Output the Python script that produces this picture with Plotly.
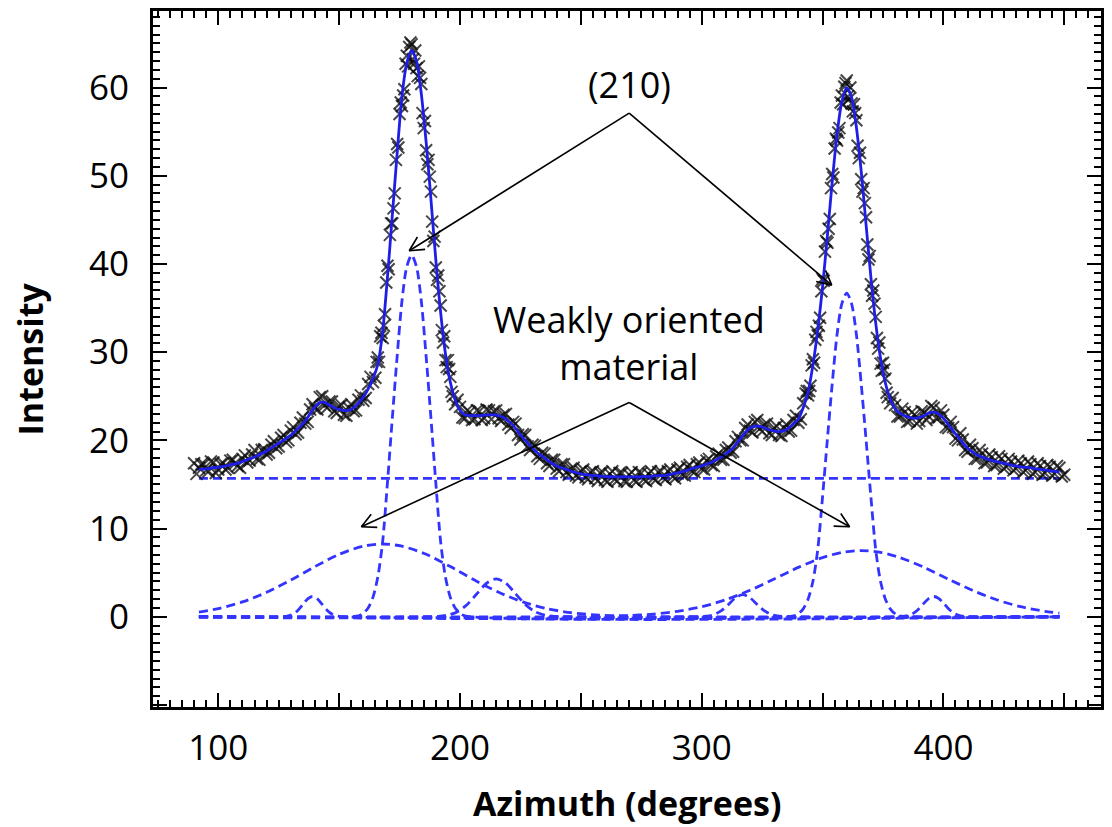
import math
import plotly.graph_objects as go

# ---- measured azimuthal scan of the (210) reflection ----
# even azimuths
azimuth_even = list(range(90, 451, 2))
intensity_even = [
    17.4, 16.9, 17.3, 16.5, 17.5, 16.7, 17.4, 16.9, 17.8, 17.1,
    17.9, 17.5, 18.4, 17.9, 18.9, 18.4, 19.5, 19.1, 20.3, 19.8,
    21.1, 20.7, 22.0, 21.9, 23.5, 23.6, 24.9, 24.0, 24.4, 23.3,
    23.9, 22.9, 23.7, 23.3, 24.6, 24.5, 26.4, 26.6, 29.4, 31.6,
    39.8, 44.6, 53.6, 57.9, 63.6, 64.9, 62.2, 60.4, 52.9, 48.2,
    39.6, 35.3, 29.1, 27.2, 24.1, 23.8, 22.5, 23.2, 22.4, 23.3,
    22.5, 23.4, 23.3, 22.5, 22.9, 21.8, 22.1, 20.6, 20.7, 19.3,
    19.5, 18.2, 18.6, 17.4, 17.8, 16.8, 17.3, 16.4, 16.8, 16.0,
    16.5, 15.8, 16.4, 15.7, 16.3, 15.5, 16.2, 15.6, 16.3, 15.4,
    16.1, 15.5, 16.4, 15.6, 16.2, 15.7, 16.4, 15.8, 16.5, 15.9,
    16.7, 16.1, 17.0, 16.5, 17.3, 16.8, 17.7, 17.2, 18.2, 17.8,
    18.9, 18.6, 19.9, 20.0, 21.4, 21.1, 22.1, 21.3, 21.8, 20.8,
    21.4, 20.6, 21.4, 21.0, 22.3, 22.0, 24.2, 25.1, 29.2, 31.9,
    38.3, 42.4, 50.2, 54.0, 59.1, 60.8, 58.2, 56.3, 49.6, 45.3,
    37.7, 34.0, 28.7, 27.0, 24.2, 24.0, 22.7, 23.2, 22.2, 22.9,
    22.2, 23.2, 22.7, 23.7, 22.6, 22.9, 21.4, 21.5, 20.0, 20.1,
    18.7, 19.1, 17.9, 18.5, 17.5, 18.1, 17.2, 17.9, 17.0, 17.6,
    16.8, 17.4, 16.6, 17.3, 16.4, 17.1, 16.3, 17.0, 16.2, 16.9,
    16.1,
]
# odd azimuths
azimuth_odd = list(range(91, 450, 2))
intensity_odd = [
    16.2, 17.3, 16.6, 17.6, 16.3, 17.3, 16.7, 17.7, 17.4, 16.9,
    18.3, 17.7, 18.9, 17.8, 19.0, 18.6, 19.9, 19.3, 20.6, 20.0,
    21.5, 20.9, 22.6, 22.1, 24.1, 23.5, 25.0, 23.7, 24.4, 23.1,
    24.0, 22.8, 24.1, 23.4, 25.1, 24.8, 27.2, 27.1, 31.8, 34.3,
    43.3, 48.0, 57.0, 59.8, 64.6, 62.7, 62.4, 55.4, 51.8, 42.6,
    38.7, 31.1, 29.1, 25.0, 24.6, 22.6, 23.4, 22.3, 23.4, 22.3,
    23.5, 22.4, 23.4, 22.2, 23.0, 21.4, 21.9, 20.1, 20.6, 18.9,
    19.4, 17.9, 18.5, 17.1, 17.8, 16.5, 17.3, 16.1, 16.9, 15.8,
    16.7, 15.6, 16.5, 15.4, 16.4, 15.3, 16.5, 15.4, 16.3, 15.3,
    16.4, 15.3, 16.3, 15.4, 16.5, 15.5, 16.5, 15.6, 16.7, 15.7,
    16.9, 16.0, 17.2, 16.4, 17.5, 16.7, 17.9, 17.1, 18.5, 17.8,
    19.2, 18.7, 20.4, 20.0, 21.8, 20.9, 22.3, 21.0, 21.9, 20.6,
    21.6, 20.5, 21.8, 21.1, 22.8, 22.4, 25.3, 26.2, 31.4, 33.9,
    41.4, 45.1, 53.1, 55.4, 60.1, 58.7, 58.1, 52.0, 48.6, 40.5,
    37.0, 30.4, 28.8, 24.9, 24.8, 22.7, 23.6, 22.1, 23.2, 21.9,
    23.3, 22.3, 23.9, 22.5, 23.4, 21.5, 22.1, 20.2, 20.8, 18.9,
    19.5, 17.9, 18.9, 17.4, 18.4, 17.1, 18.2, 16.8, 17.9, 16.6,
    17.7, 16.4, 17.6, 16.2, 17.4, 16.1, 17.2, 16.0, 17.1, 15.9,
]
# half-degree steps across the two sharp peaks
azimuth_peak1 = [165.5 + i for i in range(32)]
intensity_peak1 = [
    28.9, 28.9, 32.2, 33.0, 37.9, 39.4, 44.6, 46.3, 51.8, 53.2,
    58.3, 59.1, 62.7, 62.4, 65.1, 63.2, 64.2, 61.3, 61.1, 57.1,
    56.2, 51.3, 49.9, 44.8, 43.1, 38.2, 36.9, 32.5, 31.8, 28.3,
    28.1, 25.5,
]
azimuth_peak2 = [343.5 + i for i in range(34)]
intensity_peak2 = [
    25.6, 25.6, 28.5, 28.8, 32.3, 33.0, 36.9, 38.1, 42.6, 44.0,
    48.6, 49.8, 54.2, 54.9, 58.3, 58.1, 60.5, 59.0, 60.0, 57.3,
    57.1, 53.4, 52.6, 48.2, 46.9, 42.2, 40.9, 36.4, 35.5, 31.6,
    31.1, 27.9, 28.0, 25.4,
]

# ---- total fitted profile ----
fit_azimuth = list(range(92, 449, 2))
fit_intensity = [
    16.7, 16.75, 16.8, 16.9, 16.95, 17.05, 17.15, 17.3, 17.4, 17.6,
    17.8, 18.0, 18.25, 18.5, 18.8, 19.15, 19.5, 19.85, 20.2, 20.6,
    21.1, 21.6, 22.2, 23.0, 23.8, 24.3, 24.3, 24.0, 23.7, 23.5,
    23.4, 23.4, 23.7, 24.2, 24.9, 25.8, 27.0, 28.6, 32.3, 38.5,
    45.5, 52.5, 59.0, 62.8, 64.2, 63.0, 59.3, 53.8, 47.3, 40.5,
    34.5, 29.8, 26.6, 24.6, 23.4, 22.9, 22.8, 22.8, 22.8, 22.85,
    22.9, 22.9, 22.8, 22.6, 22.2, 21.7, 21.0, 20.3, 19.7, 19.1,
    18.6, 18.2, 17.8, 17.4, 17.1, 16.9, 16.7, 16.5, 16.35, 16.2,
    16.1, 16.05, 16.0, 15.95, 15.9, 15.9, 15.87, 15.85, 15.85, 15.85,
    15.85, 15.87, 15.9, 15.9, 15.95, 16.0, 16.0, 16.1, 16.2, 16.3,
    16.45, 16.6, 16.8, 16.95, 17.1, 17.3, 17.5, 17.8, 18.1, 18.5,
    18.9, 19.5, 20.2, 20.9, 21.4, 21.6, 21.6, 21.4, 21.2, 21.05,
    21.0, 21.1, 21.4, 21.9, 22.4, 23.7, 25.5, 28.5, 32.5, 37.4,
    43.2, 49.3, 54.7, 58.4, 60.0, 58.9, 55.5, 50.5, 44.5, 38.5,
    33.3, 29.3, 26.5, 24.7, 23.6, 23.1, 22.8, 22.6, 22.5, 22.6,
    22.8, 23.1, 23.2, 23.0, 22.5, 21.8, 21.1, 20.4, 19.7, 19.1,
    18.7, 18.35, 18.1, 17.9, 17.7, 17.6, 17.45, 17.35, 17.2, 17.1,
    17.0, 16.95, 16.9, 16.8, 16.7, 16.65, 16.55, 16.5, 16.4,
]
assert len(azimuth_even) == len(intensity_even)
assert len(azimuth_odd) == len(intensity_odd)
assert len(azimuth_peak1) == len(intensity_peak1)
assert len(azimuth_peak2) == len(intensity_peak2)
assert len(fit_azimuth) == len(fit_intensity)

# ---- fitted components ----
background_x = [92, 448]
background_y = [15.7, 15.7]

peak180_x = [92, 158, 160, 162, 164, 166, 168, 170, 172, 174, 176, 178, 180,
             182, 184, 186, 188, 190, 192, 194, 196, 198, 200, 202, 448]
peak180_y = [0, 0.1, 0.4, 1.0, 2.2, 4.5, 8.5, 15.2, 22.5, 29.5, 35.8, 39.7, 41.0,
             39.7, 35.8, 29.5, 22.5, 15.2, 8.5, 4.5, 2.2, 1.0, 0.4, 0.1, 0]

peak360_x = [92, 338, 340, 342, 344, 346, 348, 350, 352, 354, 356, 358, 360,
             362, 364, 366, 368, 370, 372, 374, 376, 378, 380, 382, 448]
peak360_y = [0, 0.1, 0.35, 0.9, 2.0, 4.0, 7.6, 13.6, 20.1, 26.4, 32.0, 35.5, 36.7,
             35.5, 32.0, 26.4, 20.1, 13.6, 7.6, 4.0, 2.0, 0.9, 0.35, 0.1, 0]

broad1_x = [92, 100, 110, 120, 130, 140, 150, 160, 168, 176, 186, 196, 206,
            216, 226, 236, 246, 256, 266, 280, 448]
broad1_y = [0.54, 0.92, 1.68, 2.77, 4.16, 5.69, 7.08, 8.0, 8.25, 8.0, 7.08, 5.69, 4.16,
            2.77, 1.68, 0.92, 0.46, 0.21, 0.09, 0.02, 0]

broad2_x = [92, 250, 270, 280, 290, 300, 310, 320, 330, 340, 350, 358, 366,
            374, 382, 392, 402, 412, 422, 432, 442, 448]
broad2_y = [0, 0.02, 0.14, 0.31, 0.62, 1.14, 1.93, 3.0, 4.28, 5.6, 6.71, 7.3, 7.5,
            7.3, 6.71, 5.6, 4.28, 3.0, 1.93, 1.14, 0.62, 0.41]

minor139_x = [92, 127, 129, 131, 133, 135, 137, 139, 141, 143, 145, 147, 149, 151, 448]
minor139_y = [0, 0.01, 0.1, 0.31, 0.75, 1.4, 2.03, 2.3, 2.03, 1.4, 0.75, 0.31, 0.1, 0.01, 0]

minor215_x = [92, 191, 195, 199, 203, 207, 211, 215, 219, 223, 227, 231, 235, 239, 448]
minor215_y = [0, 0.05, 0.19, 0.58, 1.4, 2.61, 3.8, 4.3, 3.8, 2.61, 1.4, 0.58, 0.19, 0.05, 0]

minor317_x = [92, 302, 305, 308, 311, 314, 317, 320, 323, 326, 329, 332, 448]
minor317_y = [0, 0.06, 0.23, 0.66, 1.38, 2.15, 2.5, 2.15, 1.38, 0.66, 0.23, 0.06, 0]

minor396_x = [92, 384, 386, 388, 390, 392, 394, 396, 398, 400, 402, 404, 406, 408, 448]
minor396_y = [0, 0.06, 0.2, 0.47, 0.95, 1.55, 2.08, 2.3, 2.08, 1.55, 0.95, 0.47, 0.2, 0.06, 0]

components = [
    (background_x, background_y),
    (peak180_x, peak180_y),
    (peak360_x, peak360_y),
    (broad1_x, broad1_y),
    (broad2_x, broad2_y),
    (minor139_x, minor139_y),
    (minor215_x, minor215_y),
    (minor317_x, minor317_y),
    (minor396_x, minor396_y),
]

# ---- axis ranges and frame ----
X_RANGE = [73.0, 465.2]
Y_RANGE = [-10.23, 68.68]
WIDTH, HEIGHT = 1112, 827
MARGIN = dict(l=153, r=8, t=11, b=120)

BLUE_FIT = "#1e1ee6"
BLUE_DASH = "#3434ff"
FONT = "Open Sans"

fig = go.Figure()

for cx, cy in components:
    fig.add_trace(go.Scatter(
        x=cx, y=cy, mode="lines",
        line=dict(color=BLUE_DASH, width=2.8, dash="9px,5px", shape="spline", smoothing=0.8),
        hoverinfo="skip", showlegend=False,
    ))

all_azimuth = azimuth_even + azimuth_odd + azimuth_peak1 + azimuth_peak2
all_intensity = intensity_even + intensity_odd + intensity_peak1 + intensity_peak2
fig.add_trace(go.Scatter(
    x=all_azimuth, y=all_intensity, mode="markers",
    marker=dict(symbol="x-thin", size=12,
                line=dict(width=2, color="rgba(10,10,10,0.75)")),
    name="data", showlegend=False,
))

fig.add_trace(go.Scatter(
    x=fit_azimuth, y=fit_intensity, mode="lines",
    line=dict(color=BLUE_FIT, width=2.8, shape="spline", smoothing=0.8),
    name="fit", showlegend=False,
))

# ---- labels ----
label_font = dict(family=FONT, size=36, color="black")
annotations = [
    dict(x=270, y=60.3, text="(210)", showarrow=False, font=label_font),
    dict(x=270, y=31.0, text="Weakly oriented<br>material", showarrow=False, font=label_font),
]

title_font = dict(family=FONT, size=34, color="black", weight="bold")
annotations.append(dict(xref="paper", yref="paper", x=0.5, y=-0.138,
                        text="Azimuth (degrees)", showarrow=False, font=title_font,
                        xanchor="center", yanchor="middle"))
annotations.append(dict(xref="paper", yref="paper", x=-0.1293, y=0.5,
                        text="Intensity", showarrow=False, font=title_font,
                        textangle=-90, xanchor="center", yanchor="middle"))

# ---- pointer arrows: straight shaft plus an open V head ----
px_per_x = (WIDTH - MARGIN["l"] - MARGIN["r"]) / (X_RANGE[1] - X_RANGE[0])
px_per_y = (HEIGHT - MARGIN["t"] - MARGIN["b"]) / (Y_RANGE[1] - Y_RANGE[0])
HEAD_LEN = 16      # px
HEAD_HALF_ANGLE = math.radians(27)

arrows = [
    # (tail x, tail y, tip x, tip y)
    (270.0, 57.1, 179.0, 41.5),
    (270.0, 57.1, 353.8, 37.6),
    (270.0, 24.3, 159.2, 10.2),
    (270.0, 24.3, 361.2, 10.2),
]
shapes = []
line_style = dict(color="black", width=1.6)
for tx, ty, hx, hy in arrows:
    shapes.append(dict(type="line", xref="x", yref="y", x0=tx, y0=ty, x1=hx, y1=hy,
                       line=line_style, layer="above"))
    dxp = (hx - tx) * px_per_x
    dyp = (hy - ty) * px_per_y
    norm = math.hypot(dxp, dyp)
    ux, uy = dxp / norm, dyp / norm
    for sign in (1, -1):
        ang = sign * HEAD_HALF_ANGLE
        rx = ux * math.cos(ang) - uy * math.sin(ang)
        ry = ux * math.sin(ang) + uy * math.cos(ang)
        ex = hx - HEAD_LEN * rx / px_per_x
        ey = hy - HEAD_LEN * ry / px_per_y
        shapes.append(dict(type="line", xref="x", yref="y", x0=hx, y0=hy, x1=ex, y1=ey,
                           line=line_style, layer="above"))

x_major = [100, 150, 200, 250, 300, 350, 400, 450]
x_labels = ["100", "", "200", "", "300", "", "400", ""]
y_major = [-10, 0, 10, 20, 30, 40, 50, 60]
y_labels = ["", "0", "10", "20", "30", "40", "50", "60"]

axis_common = dict(
    showline=True, linewidth=3, linecolor="black", mirror="allticks",
    ticks="inside", ticklen=14, tickwidth=2, tickcolor="black",
    showgrid=False, zeroline=False,
    tickfont=dict(family=FONT, size=35, color="black"),
)

fig.update_xaxes(range=X_RANGE, tickmode="array", tickvals=x_major, ticktext=x_labels,
                 minor=dict(dtick=5, tick0=0, ticks="inside", ticklen=7, tickwidth=2,
                            tickcolor="black", showgrid=False),
                 ticklabelstandoff=8, **axis_common)
fig.update_yaxes(range=Y_RANGE, tickmode="array", tickvals=y_major, ticktext=y_labels,
                 minor=dict(dtick=1, tick0=0, ticks="inside", ticklen=7, tickwidth=2,
                            tickcolor="black", showgrid=False),
                 ticklabelstandoff=14, **axis_common)

fig.update_layout(
    width=WIDTH, height=HEIGHT,
    margin=MARGIN,
    paper_bgcolor="white", plot_bgcolor="white",
    annotations=annotations,
    shapes=shapes,
    showlegend=False,
)

fig.write_html("out.html")
